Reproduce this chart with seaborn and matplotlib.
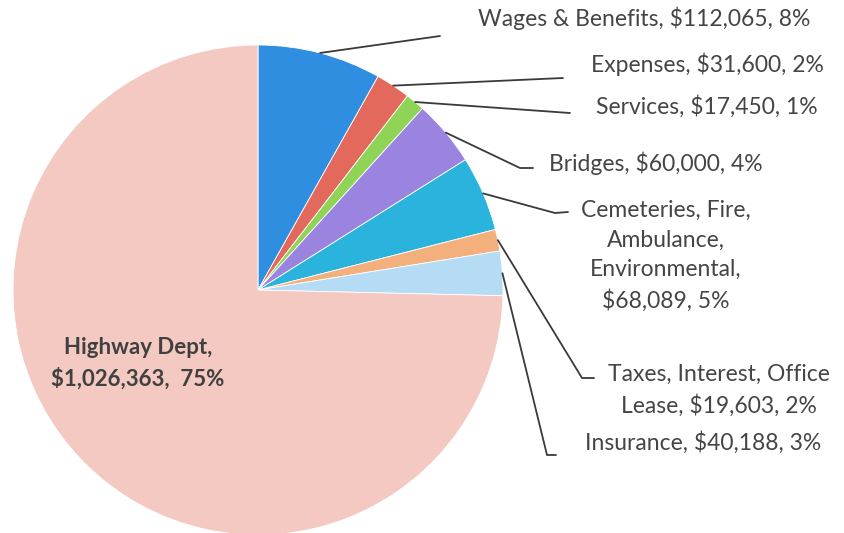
import matplotlib.pyplot as plt
import seaborn as sns
import numpy as np

# budget categories, clockwise from the top
categories = ['Wages & Benefits', 'Expenses', 'Services', 'Bridges',
              'Cemeteries, Fire,\nAmbulance,\nEnvironmental', 'Taxes, Interest, Office\nLease',
              'Insurance', 'Highway Dept']
amounts = [112065, 31600, 17450, 60000, 68089, 19603, 40188, 1026363]
percents = [8, 2, 1, 4, 5, 2, 3, 75]
label_seps = [' ', ' ', ' ', ' ', '\n', ' ', ' ', '\n']
colors = ['#2f8ee0', '#e2695c', '#8fd456', '#9b83e0', '#29b3dd', '#f4b07c', '#b6dcf5', '#f3c9c2']

sns.set_theme(style='white')
plt.rcParams['font.family'] = ['Lato', 'DejaVu Sans']

W, H = 844, 533
fig = plt.figure(figsize=(W / 100, H / 100), dpi=100)
ax = fig.add_axes([0, 0, 1, 1])

cx, cy, r = 258, H - 290, 245
wedges, _ = ax.pie(amounts, colors=colors, startangle=90, counterclock=False,
                   center=(cx, cy), radius=r, frame=True,
                   wedgeprops=dict(edgecolor='white', linewidth=0.6))
ax.set_xlim(0, W)
ax.set_ylim(0, H)
ax.axis('off')

def label_text(i):
    return f"{categories[i]},{label_seps[i]}${amounts[i]:,}, {percents[i]}%"

# leader line bends (pixel coords from top) and text anchors
layout = [
    ([(440, 36)], (644, 18)),
    ([(563, 78)], (707, 64)),
    ([(570, 113)], (707, 107)),
    ([(520, 168), (533, 168)], (656, 163)),
    ([(555, 213), (568, 212)], (666, 256)),
    ([(582, 378), (594, 378)], (719, 390)),
    ([(547, 455), (556, 455)], (703, 443)),
]

for i, (pts, (tx, ty)) in enumerate(layout):
    w = wedges[i]
    ang = np.deg2rad((w.theta1 + w.theta2) / 2)
    x0, y0 = cx + r * np.cos(ang), cy + r * np.sin(ang)
    xs = [x0] + [p[0] for p in pts]
    ys = [y0] + [H - p[1] for p in pts]
    ax.plot(xs, ys, color='#3a3a3a', lw=1.3)
    ax.text(tx, H - ty, label_text(i), ha='center', va='center', fontsize=16.5,
            color='#454545', linespacing=1.5)

ax.text(138, H - 363, label_text(7).replace(', 7', ',  7'), ha='center', va='center',
        fontsize=16, color='#404040', fontweight='bold', linespacing=1.5)

fig.savefig('out.png', dpi=100)
